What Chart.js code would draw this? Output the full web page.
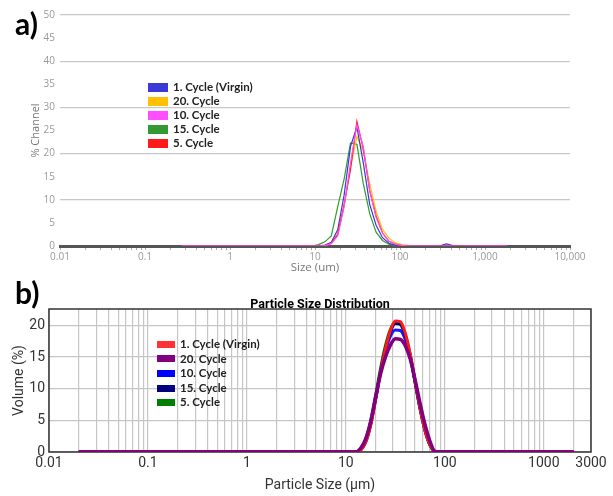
<!DOCTYPE html>
<html>
<head>
<meta charset="utf-8">
<script src="https://cdn.jsdelivr.net/npm/chart.js@4.4.1/dist/chart.umd.min.js"></script>
<style>
  body { margin: 0; background: #fff; width: 613px; height: 496px; position: relative; overflow: hidden; }
  .panel { position: absolute; left: 0; }
  .tag { position: absolute; font-family: Lato, sans-serif; font-weight: 700; font-size: 30px; line-height: 30px; color: #000; }
  .legend { position: absolute; font-family: Lato, sans-serif; font-weight: 700; font-size: 11.5px; color: #222; }
  .legend div { position: relative; white-space: nowrap; }
  .legend span { position: absolute; left: 0; }
</style>
</head>
<body>
<canvas id="chartA" class="panel" width="613" height="278" style="top:0"></canvas>
<canvas id="chartB" class="panel" width="613" height="218" style="top:278px"></canvas>
<div class="tag" style="left:15px;top:8px">a)</div>
<div class="tag" style="left:15px;top:277px">b)</div>
<div id="legendA" class="legend" style="left:148px;top:80px"></div>
<div id="legendB" class="legend" style="left:157px;top:337px"></div>
<script>
// ---- panel a) data (sizes in um, values in % channel) ----
const sizesA = [0.27, 1, 5, 9.25, 11.0, 13.08, 15.56, 18.5, 22.0, 26.16, 31.11, 37.0, 44.0, 52.33, 62.23, 74.0, 88.0, 104.7, 124.5, 148.0, 176.0, 209.3, 248.9, 296.0, 352.0, 418.6, 497.8, 1000, 1820];
const virginA = [0, 0, 0, 0, 0, 0.2, 0.8, 3.5, 11.0, 21.5, 25.8, 18.0, 9.0, 4.5, 1.8, 0.6, 0.2, 0.05, 0, 0, 0, 0, 0, 0.05, 0.45, 0.1, 0, 0, 0];
const cycle20A = [0, 0, 0, 0, 0, 0.1, 0.6, 2.5, 8.5, 17.0, 23.7, 20.5, 13.5, 7.5, 3.6, 1.7, 0.7, 0.3, 0.15, 0.05, 0, 0, 0, 0, 0, 0, 0, 0, 0];
const cycle10A = [0, 0, 0, 0, 0, 0.1, 0.5, 2.2, 8.5, 18.0, 26.2, 21.5, 12.0, 6.2, 2.8, 1.1, 0.4, 0.15, 0, 0, 0, 0, 0, 0, 0, 0, 0, 0, 0];
const cycle15A = [0, 0, 0, 0, 0.3, 0.9, 2.2, 8.5, 14.5, 22.3, 22.0, 13.5, 7.0, 3.0, 1.2, 0.4, 0.1, 0, 0, 0, 0, 0, 0, 0, 0, 0, 0, 0, 0];
const cycle5A = [0, 0, 0, 0, 0, 0.1, 0.6, 2.5, 9.0, 16.5, 27.0, 21.0, 12.0, 6.5, 2.8, 1.0, 0.4, 0.1, 0, 0, 0, 0, 0, 0, 0, 0, 0, 0, 0];
const namesA = ['1. Cycle (Virgin)', '20. Cycle', '10. Cycle', '15. Cycle', '5. Cycle'];
const colorsA = ['#3a3ad6', '#ffc000', '#ff4dff', '#339933', '#ff1a1a'];
const orderA = [2, 3, 0, 4, 1]; // magenta on top
const xTickValsA = [0.01, 0.1, 1, 10, 100, 1000, 10000];
const xTickTextA = ['0.01', '0.1', '1', '10', '100', '1,000', '10,000'];

// ---- panel b) data (sizes in um, values in volume %) ----
const sizesB = [0.02, 0.1, 1, 10, 11.2, 12.6, 14.1, 15.8, 17.8, 20.0, 22.4, 25.1, 28.2, 31.6, 35.5, 39.8, 44.7, 50.1, 56.2, 63.1, 70.8, 79.4, 89.1, 100, 1000, 2000];
const virginB = [0, 0, 0, 0, 0, 0, 0.3, 1.5, 4.2, 8.3, 12.6, 16.3, 19.2, 20.7, 20.6, 18.8, 15.5, 11.2, 6.9, 3.4, 1.1, 0.1, 0, 0, 0, 0];
const cycle20B = [0, 0, 0, 0, 0, 0, 0.6, 2.0, 4.8, 8.7, 12.3, 15.0, 16.9, 17.9, 17.8, 16.8, 14.7, 11.4, 7.7, 4.3, 1.7, 0.1, 0, 0, 0, 0];
const cycle10B = [0, 0, 0, 0, 0, 0, 0.4, 1.7, 4.5, 8.5, 12.6, 15.9, 18.3, 19.3, 19.2, 17.8, 15.0, 11.1, 7.1, 3.7, 1.3, 0.1, 0, 0, 0, 0];
const cycle15B = [0, 0, 0, 0, 0, 0, 0.3, 1.5, 4.3, 8.4, 12.7, 16.3, 19.0, 20.3, 20.2, 18.5, 15.3, 11.1, 6.9, 3.4, 1.1, 0.1, 0, 0, 0, 0];
const cycle5B = [0, 0, 0, 0, 0, 0, 0.5, 2.0, 4.9, 9.0, 13.2, 16.8, 19.4, 20.5, 20.2, 18.4, 15.1, 10.9, 6.8, 3.4, 1.1, 0.1, 0, 0, 0, 0];
const namesB = ['1. Cycle (Virgin)', '20. Cycle', '10. Cycle', '15. Cycle', '5. Cycle'];
const colorsB = ['#ff1a1a', '#800080', '#1a1aff', '#000080', '#007a00'];
const legendColorsB = ['#ff3333', '#800080', '#0000ff', '#000080', '#008000'];
const orderB = [1, 0, 3, 2, 4]; // purple on top
const xTickValsB = [0.01, 0.1, 1, 10, 100, 1000, 3000];
const xTickTextB = ['0.01', '0.1', '1', '10', '100', '1000', '3000'];

// pairs sizes with values for the log x axis
function toPoints(sizes, vals) {
  return sizes.map((s, i) => ({ x: s, y: vals[i] }));
}

// 1..9 x 10^n grid positions between min and max
function logGrid(min, max) {
  const out = [];
  for (let e = Math.floor(Math.log10(min)); e <= Math.ceil(Math.log10(max)); e++) {
    for (let m = 1; m <= 9; m++) {
      const v = m * Math.pow(10, e);
      if (v >= min * 0.999 && v <= max * 1.001) out.push(v);
    }
  }
  return out;
}

// label only the listed ticks, keep the grid line for the rest
function labelFor(value, vals, texts) {
  const i = vals.findIndex(t => Math.abs(Math.log10(value / t)) < 1e-6);
  return i >= 0 ? texts[i] : '';
}

function buildLegend(id, names, colors, rowH, boxW, boxH, textX) {
  const el = document.getElementById(id);
  names.forEach((name, i) => {
    const row = document.createElement('div');
    row.style.height = rowH + 'px';
    row.style.lineHeight = rowH + 'px';
    row.style.paddingLeft = textX + 'px';
    const box = document.createElement('span');
    box.style.cssText = 'top:' + ((rowH - boxH) / 2) + 'px;width:' + boxW + 'px;height:' + boxH + 'px;background:' + colors[i];
    row.appendChild(box);
    row.appendChild(document.createTextNode(name));
    el.appendChild(row);
  });
}

buildLegend('legendA', namesA, colorsA, 14.1, 20, 9, 25);
buildLegend('legendB', namesB, legendColorsB, 14.6, 18, 7, 23);

const seriesA = [virginA, cycle20A, cycle10A, cycle15A, cycle5A];
const seriesB = [virginB, cycle20B, cycle10B, cycle15B, cycle5B];

// ---- chart a) ----
new Chart(document.getElementById('chartA'), {
  type: 'line',
  data: {
    datasets: namesA.map((name, i) => ({
      label: name,
      data: toPoints(sizesA, seriesA[i]),
      borderColor: colorsA[i],
      borderWidth: 1.2,
      pointRadius: 0,
      tension: 0,
      order: orderA[i]
    }))
  },
  options: {
    responsive: false,
    animation: false,
    layout: { padding: { left: 0, top: 15, right: 43, bottom: 0 } },
    plugins: { legend: { display: false }, tooltip: { enabled: false } },
    scales: {
      x: {
        type: 'logarithmic', min: 0.01, max: 10000,
        afterBuildTicks: s => { s.ticks = logGrid(0.01, 10000).map(v => ({ value: v })); },
        afterFit: s => { s.height = 32; },
        ticks: {
          autoSkip: false, maxRotation: 0, padding: 1, color: '#999',
          font: { family: 'Open Sans', size: 10 },
          callback: v => labelFor(v, xTickValsA, xTickTextA)
        },
        grid: { drawOnChartArea: false, drawTicks: true, tickLength: 4, color: '#aaa' },
        border: { display: true, color: '#555', width: 3 },
        title: { display: true, text: 'Size (um)', color: '#777', font: { family: 'Open Sans', size: 11.5 }, padding: { top: 0, bottom: 3 } }
      },
      y: {
        min: 0, max: 50,
        afterFit: s => { s.width = 60; },
        ticks: { stepSize: 5, padding: 5, color: '#999', font: { family: 'Open Sans', size: 10 } },
        grid: {
          drawTicks: false, lineWidth: 1.2,
          color: ctx => (ctx.tick && ctx.tick.value > 0 && ctx.tick.value % 10 === 0) ? '#c8c8c8' : 'rgba(0,0,0,0)'
        },
        border: { display: false },
        title: { display: true, text: '% Channel', color: '#777', font: { family: 'Open Sans', size: 11 }, padding: { top: 29, bottom: 0 } }
      }
    }
  }
});

// frame round the plot area of chart b)
const frameB = {
  id: 'frameB',
  beforeDatasetsDraw(chart) {
    const { ctx, chartArea: a } = chart;
    ctx.save();
    ctx.strokeStyle = '#333';
    ctx.lineWidth = 1.5;
    ctx.strokeRect(a.left, a.top, a.right - a.left, a.bottom - a.top);
    ctx.restore();
  }
};

// ---- chart b) ----
new Chart(document.getElementById('chartB'), {
  type: 'line',
  data: {
    datasets: namesB.map((name, i) => ({
      label: name,
      data: toPoints(sizesB, seriesB[i]),
      borderColor: colorsB[i],
      borderWidth: i === 1 ? 3.5 : 3,
      pointRadius: 0,
      cubicInterpolationMode: 'monotone',
      order: orderB[i]
    }))
  },
  plugins: [frameB],
  options: {
    responsive: false,
    animation: false,
    layout: { padding: { left: 0, top: 0, right: 22, bottom: 0 } },
    plugins: {
      legend: { display: false },
      tooltip: { enabled: false },
      title: {
        display: true, fullSize: false, text: 'Particle Size Distribution', color: '#000',
        font: { family: 'Roboto', size: 12.5, weight: 'bold', lineHeight: 1 },
        padding: { top: 21, bottom: -2.5 }
      }
    },
    scales: {
      x: {
        type: 'logarithmic', min: 0.01, max: 3000,
        afterBuildTicks: s => { s.ticks = logGrid(0.01, 3000).map(v => ({ value: v })); },
        afterFit: s => { s.height = 44; },
        ticks: {
          autoSkip: false, maxRotation: 0, padding: 3, color: '#333',
          font: { family: 'Roboto', size: 14 },
          callback: v => labelFor(v, xTickValsB, xTickTextB)
        },
        grid: { drawTicks: false, color: '#c6c6c6', lineWidth: 1.2 },
        border: { display: false },
        title: { display: true, text: 'Particle Size (µm)', color: '#333', font: { family: 'Roboto', size: 14 }, padding: { top: 0, bottom: 2.6 } }
      },
      y: {
        min: 0, max: 22.6,
        afterFit: s => { s.width = 49; },
        ticks: { stepSize: 5, includeBounds: false, padding: 4, color: '#333', font: { family: 'Roboto', size: 14 } },
        grid: { drawTicks: false, color: '#c6c6c6', lineWidth: 1.2 },
        border: { display: false },
        title: { display: true, text: 'Volume (%)', color: '#333', font: { family: 'Roboto', size: 14 }, padding: { top: 10.6, bottom: 0 } }
      }
    }
  }
});
</script>
</body>
</html>
